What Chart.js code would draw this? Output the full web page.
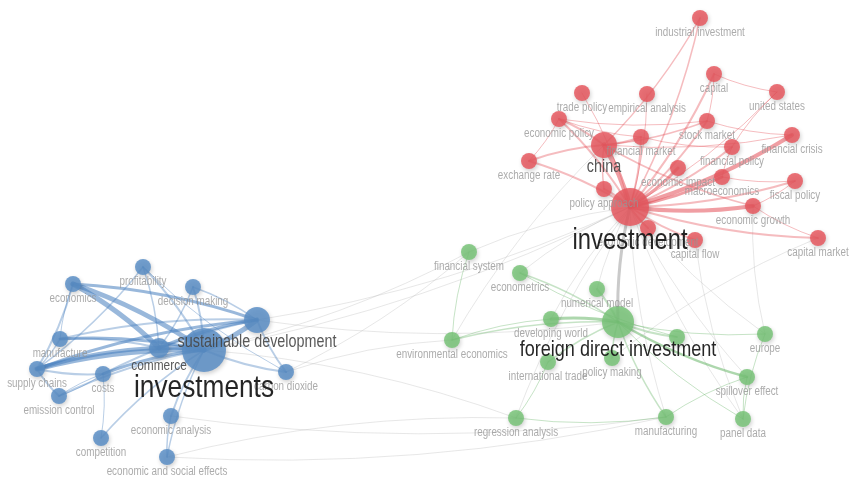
<!DOCTYPE html>
<html>
<head>
<meta charset="utf-8">
<title>Keyword co-occurrence map</title>
<script src="https://cdn.jsdelivr.net/npm/chart.js@4.4.1/dist/chart.umd.min.js"></script>
<style>
  html, body { margin: 0; padding: 0; background: #fff; }
  #wrap { width: 849px; height: 481px; position: relative; }
</style>
</head>
<body>
<div id="wrap"><canvas id="map"></canvas></div>
<script>
/* ── Keyword nodes (map coordinates, bubble radius, cluster) ── */
const nodeLabels = [
  'industrial investment', 'capital', 'trade policy', 'empirical analysis', 'united states',
  'economic policy', 'stock market', 'financial market', 'financial crisis', 'china',
  'exchange rate', 'financial policy', 'economic impact', 'macroeconomics', 'fiscal policy',
  'policy approach', 'investment', 'economic growth', 'economic development', 'capital flow',
  'capital market',
  'financial system', 'econometrics', 'numerical model', 'developing world', 'foreign direct investment',
  'technology', 'environmental economics', 'international trade', 'policy making', 'europe',
  'spillover effect', 'regression analysis', 'manufacturing', 'panel data',
  'profitability', 'economics', 'decision making', 'sustainable development', 'investments',
  'manufacture', 'commerce', 'supply chains', 'costs', 'emission control',
  'carbon dioxide', 'economic analysis', 'competition', 'economic and social effects'
];
const nodeX = [
  700, 714, 582, 647, 777,
  559, 707, 641, 792, 604,
  529, 732, 678, 722, 795,
  604, 630, 753, 648, 695,
  818,
  469, 520, 597, 551, 618,
  677, 452, 548, 612, 765,
  747, 516, 666, 743,
  143, 73, 193, 257, 204,
  60, 159, 37, 103, 59,
  286, 171, 101, 167
];
const nodeY = [
  18, 74, 93, 94, 92,
  119, 121, 137, 135, 145,
  161, 147, 168, 177, 181,
  189, 207, 206, 228, 240,
  238,
  252, 273, 289, 319, 322,
  337, 340, 362, 358, 334,
  377, 418, 417, 419,
  267, 284, 287, 320, 350,
  339, 348, 369, 374, 396,
  372, 416, 438, 457
];
const nodeSize = [
  8, 8, 8, 8, 8,
  8, 8, 8, 8, 13,
  8, 8, 8, 8, 8,
  8, 19, 8, 8, 8,
  8,
  8, 8, 8, 8, 16,
  8, 8, 8, 8, 8,
  8, 8, 8, 8,
  8, 8, 8, 13, 22,
  8, 10, 8, 8, 8,
  8, 8, 8, 8
];
const nodeCluster = [
  0, 0, 0, 0, 0, 0, 0, 0, 0, 0, 0, 0, 0, 0, 0, 0, 0, 0, 0, 0, 0,
  1, 1, 1, 1, 1, 1, 1, 1, 1, 1, 1, 1, 1, 1,
  2, 2, 2, 2, 2, 2, 2, 2, 2, 2, 2, 2, 2, 2
];
const hiddenLabels = ['technology'];

/* ── Co-occurrence links ── */
const edgeFrom = [
  'investment', 'investment', 'investment', 'investment', 'investment', 'investment', 'investment',
  'investment', 'investment', 'investment', 'investment', 'investment', 'investment', 'investment',
  'investment', 'investment', 'investment', 'investment', 'investment', 'investment',
  'china', 'china', 'china', 'china', 'china', 'china', 'china', 'china',
  'economic policy', 'economic policy', 'stock market', 'stock market', 'capital', 'united states',
  'financial policy', 'economic growth', 'economic growth', 'macroeconomics', 'exchange rate', 'financial market',
  'foreign direct investment', 'foreign direct investment', 'foreign direct investment', 'foreign direct investment',
  'foreign direct investment', 'foreign direct investment', 'foreign direct investment', 'foreign direct investment',
  'foreign direct investment', 'foreign direct investment', 'foreign direct investment',
  'developing world', 'financial system', 'spillover effect', 'spillover effect', 'regression analysis',
  'regression analysis', 'econometrics', 'europe',
  'investment', 'investment', 'investment', 'investment', 'investment', 'investment', 'investment',
  'investment', 'investment', 'investment', 'capital flow', 'investments', 'investments', 'sustainable development',
  'sustainable development', 'environmental economics', 'regression analysis', 'regression analysis',
  'economic analysis', 'china', 'economic and social effects', 'carbon dioxide', 'economic growth', 'capital market',
  'investments', 'investments', 'investments', 'investments', 'investments', 'investments', 'investments',
  'investments', 'investments', 'investments', 'investments', 'investments', 'investments',
  'sustainable development', 'sustainable development', 'sustainable development', 'sustainable development',
  'sustainable development', 'sustainable development', 'sustainable development',
  'commerce', 'commerce', 'commerce', 'commerce', 'commerce',
  'supply chains', 'supply chains', 'supply chains', 'supply chains', 'supply chains',
  'profitability', 'economic analysis', 'competition', 'economics', 'emission control', 'costs'
];
const edgeTo = [
  'china', 'economic impact', 'macroeconomics', 'economic growth', 'financial crisis', 'fiscal policy', 'capital market',
  'exchange rate', 'economic policy', 'financial market', 'stock market', 'capital', 'industrial investment', 'policy approach',
  'economic development', 'capital flow', 'trade policy', 'empirical analysis', 'united states', 'financial policy',
  'exchange rate', 'economic policy', 'financial market', 'stock market', 'industrial investment', 'financial crisis',
  'economic growth', 'policy approach',
  'financial market', 'stock market', 'financial crisis', 'capital', 'united states', 'financial policy',
  'macroeconomics', 'capital market', 'fiscal policy', 'fiscal policy', 'economic policy', 'financial policy',
  'developing world', 'numerical model', 'technology', 'spillover effect',
  'manufacturing', 'econometrics', 'environmental economics', 'international trade',
  'policy making', 'europe', 'panel data',
  'environmental economics', 'environmental economics', 'panel data', 'manufacturing', 'manufacturing',
  'international trade', 'technology', 'panel data',
  'foreign direct investment', 'financial system', 'econometrics', 'numerical model', 'developing world', 'spillover effect',
  'panel data', 'regression analysis', 'manufacturing', 'europe', 'panel data', 'financial system', 'investment',
  'investment', 'foreign direct investment', 'carbon dioxide', 'economic and social effects', 'investments',
  'manufacturing', 'environmental economics', 'manufacturing', 'financial system', 'europe', 'policy making',
  'sustainable development', 'commerce', 'economics', 'supply chains', 'manufacture', 'costs', 'profitability',
  'decision making', 'carbon dioxide', 'economic analysis', 'economic and social effects', 'emission control', 'competition',
  'economics', 'supply chains', 'commerce', 'manufacture', 'costs', 'carbon dioxide', 'decision making',
  'economics', 'supply chains', 'profitability', 'manufacture', 'decision making',
  'costs', 'economics', 'emission control', 'manufacture', 'profitability',
  'carbon dioxide', 'economic and social effects', 'costs', 'manufacture', 'costs', 'emission control'
];
const edgeWeight = [
  5, 3, 3, 4, 4, 2, 2,
  2, 2, 2, 2, 2, 1.5, 2,
  2, 2, 1, 1, 1, 2,
  2, 2, 2, 1.5, 1.5, 1, 1.5, 1.5,
  1, 1, 1, 1, 1, 1,
  1, 1, 1, 1, 1, 1,
  3, 2, 2, 2.5, 1.5, 1.5, 1.5, 1.5,
  1.5, 1, 1,
  1, 1, 1, 1, 1,
  1, 1, 1,
  3, 1, 1, 1, 1, 1,
  1, 1, 1, 1, 1, 1, 1,
  1, 1, 1, 1, 1,
  1, 1, 1, 1, 1, 1,
  5, 5, 5, 5, 3, 3, 2,
  2, 2, 2, 1.5, 2, 1.5,
  3, 3, 3, 2, 2, 2, 1.5,
  5, 4, 1.5, 2, 1.5,
  2, 2, 2, 1.5, 1.5,
  1, 1.5, 1, 1, 1, 1
];

/* ── Colours per cluster ── */
const clusterFill = ['rgba(230,88,95,0.85)', 'rgba(120,195,120,0.85)', 'rgba(90,142,198,0.85)'];
const clusterEdge = ['rgba(228,78,88,', 'rgba(105,182,105,', 'rgba(70,125,190,'];
const FONT = '"Liberation Sans", Arial, sans-serif';
const CONDENSE = 0.82; // no narrow face installed, so squeeze the regular one
const CURVE = 0.07;

const idx = name => nodeLabels.indexOf(name);

function labelSize(r) {
  if (r <= 8) return 12;
  if (r <= 10) return 14.5;
  if (r <= 13) return 17.5;
  if (r <= 16) return 22;
  if (r <= 19) return 29;
  return 32;
}
function labelColor(r) {
  if (r <= 8) return 'rgba(150,150,150,0.8)';
  if (r <= 13) return 'rgba(70,70,70,0.9)';
  return 'rgba(25,25,25,0.95)';
}

/* ── Links drawn as gentle curves under the bubbles ── */
const linkPlugin = {
  id: 'links',
  beforeDatasetsDraw(chart) {
    const { ctx, scales } = chart;
    ctx.save();
    ctx.lineCap = 'round';
    // light cross-cluster links first, then cluster links
    const order = edgeFrom.map((_, i) => i).sort((a, b) => {
      const ca = nodeCluster[idx(edgeFrom[a])] === nodeCluster[idx(edgeTo[a])] ? 1 : 0;
      const cb = nodeCluster[idx(edgeFrom[b])] === nodeCluster[idx(edgeTo[b])] ? 1 : 0;
      return ca - cb;
    });
    order.forEach(i => {
      const a = idx(edgeFrom[i]), b = idx(edgeTo[i]);
      if (a < 0 || b < 0) return;
      const x1 = scales.x.getPixelForValue(nodeX[a]), y1 = scales.y.getPixelForValue(nodeY[a]);
      const x2 = scales.x.getPixelForValue(nodeX[b]), y2 = scales.y.getPixelForValue(nodeY[b]);
      const mx = (x1 + x2) / 2, my = (y1 + y2) / 2;
      const dx = x2 - x1, dy = y2 - y1;
      const cx = mx - dy * CURVE, cy = my + dx * CURVE;
      const same = nodeCluster[a] === nodeCluster[b];
      const w = edgeWeight[i];
      ctx.strokeStyle = same
        ? clusterEdge[nodeCluster[a]] + (w > 2 ? 0.55 : 0.38) + ')'
        : (w > 2 ? 'rgba(150,150,150,0.5)' : 'rgba(185,185,185,0.35)');
      ctx.lineWidth = w;
      ctx.beginPath();
      ctx.moveTo(x1, y1);
      ctx.quadraticCurveTo(cx, cy, x2, y2);
      ctx.stroke();
    });
    ctx.restore();
  },
  beforeDatasetDraw(chart) {
    const ctx = chart.ctx;
    ctx.save();
    ctx.shadowColor = 'rgba(0,0,0,0.22)';
    ctx.shadowBlur = 4;
    ctx.shadowOffsetX = 1;
    ctx.shadowOffsetY = 2;
  },
  afterDatasetDraw(chart) {
    chart.ctx.restore();
  }
};

/* ── Keyword labels under each bubble ── */
const labelPlugin = {
  id: 'labels',
  afterDatasetsDraw(chart) {
    const { ctx, scales } = chart;
    ctx.save();
    ctx.textAlign = 'center';
    ctx.textBaseline = 'middle';
    const order = nodeLabels.map((_, i) => i).sort((a, b) => nodeSize[a] - nodeSize[b]);
    order.forEach(i => {
      if (hiddenLabels.includes(nodeLabels[i])) return;
      const r = nodeSize[i];
      const fs = labelSize(r);
      const x = scales.x.getPixelForValue(nodeX[i]);
      const y = scales.y.getPixelForValue(nodeY[i]) + r + fs * 0.52;
      ctx.save();
      ctx.translate(x, y);
      ctx.scale(CONDENSE, 1);
      ctx.font = fs + 'px ' + FONT;
      ctx.fillStyle = labelColor(r);
      ctx.fillText(nodeLabels[i], 0, 0);
      ctx.restore();
    });
    ctx.restore();
  }
};

new Chart(document.getElementById('map'), {
  type: 'bubble',
  data: {
    datasets: [{
      data: nodeLabels.map((_, i) => ({ x: nodeX[i], y: nodeY[i], r: nodeSize[i] })),
      backgroundColor: nodeCluster.map(c => clusterFill[c]),
      borderWidth: 0,
      hoverBorderWidth: 0,
      clip: false
    }]
  },
  options: {
    responsive: true,
    maintainAspectRatio: false,
    animation: false,
    layout: { padding: 0, autoPadding: false },
    plugins: {
      legend: { display: false },
      tooltip: { enabled: false }
    },
    scales: {
      x: { type: 'linear', min: 0, max: 849, display: false },
      y: { type: 'linear', min: 0, max: 481, reverse: true, display: false }
    }
  },
  plugins: [linkPlugin, labelPlugin]
});
</script>
</body>
</html>
